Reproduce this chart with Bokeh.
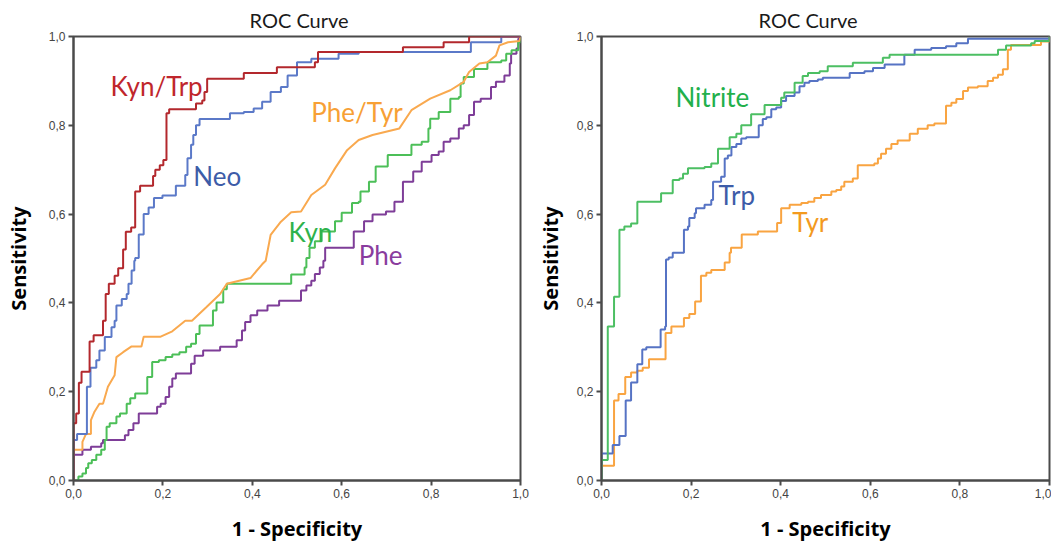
from bokeh.plotting import figure
from bokeh.layouts import row
from bokeh.models import Range1d, FixedTicker, CustomJSTickFormatter, Label
from bokeh.embed import file_html
from bokeh.resources import INLINE

# ---------------- data (left panel) ----------------
kyntrp_fpr = [0, 0, 0.006, 0.012, 0.018, 0.036, 0.045, 0.066, 0.072, 0.079, 0.092, 0.100, 0.111, 0.117,
              0.129, 0.138, 0.149, 0.178, 0.183, 0.193, 0.201, 0.208, 0.214, 0.274, 0.288, 0.293, 0.299,
              0.381, 0.455, 0.540, 0.547, 0.737, 0.828, 0.885, 1.0]
kyntrp_tpr = [0, 0.129, 0.151, 0.220, 0.245, 0.313, 0.327, 0.360, 0.420, 0.443, 0.461, 0.478, 0.520, 0.560,
              0.570, 0.651, 0.664, 0.686, 0.700, 0.710, 0.722, 0.827, 0.836, 0.849, 0.856, 0.875, 0.905,
              0.918, 0.931, 0.942, 0.965, 0.976, 0.987, 1.0, 1.0]

neo_fpr = [0, 0, 0.008, 0.030, 0.038, 0.051, 0.058, 0.070, 0.085, 0.092, 0.096, 0.108, 0.119, 0.123, 0.130,
           0.136, 0.138, 0.146, 0.157, 0.168, 0.180, 0.199, 0.229, 0.250, 0.255, 0.263, 0.268, 0.274, 0.282,
           0.350, 0.381, 0.403, 0.422, 0.441, 0.464, 0.479, 0.500, 0.532, 0.593, 0.638, 0.889, 0.957, 1.0]
neo_tpr = [0, 0.091, 0.105, 0.211, 0.254, 0.271, 0.293, 0.323, 0.345, 0.360, 0.394, 0.409, 0.420, 0.443, 0.473,
           0.495, 0.501, 0.554, 0.600, 0.615, 0.636, 0.642, 0.664, 0.688, 0.726, 0.756, 0.778, 0.800, 0.814,
           0.827, 0.830, 0.838, 0.853, 0.875, 0.886, 0.912, 0.942, 0.950, 0.961, 0.965, 0.987, 1.0, 1.0]

phetyr_fpr = [0, 0, 0.020, 0.020, 0.028, 0.039, 0.039, 0.047, 0.058, 0.066, 0.077, 0.092, 0.096, 0.111, 0.130,
              0.152, 0.157, 0.195, 0.221, 0.250, 0.265, 0.297, 0.328, 0.343, 0.396, 0.422, 0.430, 0.441, 0.464,
              0.487, 0.509, 0.532, 0.563, 0.585, 0.612, 0.638, 0.669, 0.729, 0.756, 0.798, 0.843, 0.873, 0.885,
              0.908, 0.926, 0.945, 0.953, 0.972, 0.998, 1.0]
phetyr_tpr = [0, 0.069, 0.069, 0.087, 0.105, 0.105, 0.136, 0.155, 0.173, 0.173, 0.211, 0.237, 0.278, 0.289, 0.302,
              0.302, 0.324, 0.324, 0.336, 0.360, 0.360, 0.390, 0.420, 0.443, 0.456, 0.487, 0.495, 0.553, 0.583,
              0.604, 0.606, 0.643, 0.666, 0.703, 0.744, 0.767, 0.778, 0.793, 0.834, 0.860, 0.879, 0.898, 0.920,
              0.939, 0.942, 0.957, 0.980, 0.987, 0.990, 1.0]

kyn_fpr = [0, 0.011, 0.020, 0.028, 0.033, 0.041, 0.051, 0.062, 0.070, 0.074, 0.081, 0.096, 0.104, 0.119, 0.127,
           0.138, 0.165, 0.176, 0.191, 0.206, 0.221, 0.237, 0.252, 0.263, 0.274, 0.282, 0.312, 0.320, 0.335,
           0.343, 0.487, 0.517, 0.521, 0.528, 0.540, 0.555, 0.585, 0.600, 0.623, 0.638, 0.642, 0.661, 0.676,
           0.703, 0.756, 0.779, 0.794, 0.798, 0.817, 0.843, 0.862, 0.866, 0.873, 0.896, 0.926, 0.957, 0.968,
           0.980, 0.995, 1.0]
kyn_tpr = [0, 0.009, 0.016, 0.028, 0.039, 0.046, 0.058, 0.069, 0.091, 0.121, 0.129, 0.144, 0.151, 0.173, 0.185,
           0.196, 0.233, 0.267, 0.271, 0.278, 0.284, 0.289, 0.301, 0.308, 0.330, 0.349, 0.383, 0.401, 0.431,
           0.443, 0.464, 0.480, 0.501, 0.524, 0.539, 0.561, 0.584, 0.603, 0.625, 0.628, 0.651, 0.673, 0.707,
           0.733, 0.756, 0.763, 0.793, 0.815, 0.830, 0.860, 0.864, 0.894, 0.909, 0.927, 0.942, 0.946, 0.961,
           0.969, 0.987, 1.0]

phe_fpr = [0, 0, 0.020, 0.039, 0.062, 0.066, 0.115, 0.123, 0.134, 0.146, 0.187, 0.195, 0.206, 0.214, 0.221,
           0.229, 0.263, 0.271, 0.290, 0.328, 0.365, 0.377, 0.384, 0.396, 0.411, 0.434, 0.460, 0.509, 0.521,
           0.532, 0.540, 0.551, 0.559, 0.563, 0.627, 0.650, 0.669, 0.699, 0.718, 0.737, 0.760, 0.779, 0.801,
           0.817, 0.828, 0.843, 0.862, 0.873, 0.885, 0.896, 0.911, 0.934, 0.945, 0.964, 0.976, 0.979, 0.991,
           0.995, 1.0]
phe_tpr = [0, 0.058, 0.069, 0.076, 0.084, 0.091, 0.102, 0.114, 0.129, 0.151, 0.166, 0.173, 0.188, 0.211, 0.230,
           0.241, 0.263, 0.281, 0.293, 0.301, 0.316, 0.338, 0.357, 0.372, 0.383, 0.394, 0.405, 0.428, 0.439,
           0.450, 0.465, 0.480, 0.495, 0.524, 0.561, 0.584, 0.599, 0.606, 0.628, 0.673, 0.696, 0.718, 0.733,
           0.741, 0.763, 0.770, 0.793, 0.800, 0.823, 0.853, 0.860, 0.886, 0.898, 0.912, 0.939, 0.961, 0.973,
           0.995, 1.0]

# ---------------- data (right panel) ----------------
nitrite_fpr = [0, 0, 0.014, 0.028, 0.040, 0.051, 0.066, 0.080, 0.133, 0.159, 0.174, 0.182, 0.193, 0.230, 0.245,
               0.260, 0.286, 0.301, 0.312, 0.334, 0.364, 0.401, 0.408, 0.431, 0.449, 0.461, 0.487, 0.505, 0.561,
               0.628, 0.643, 0.885, 0.903, 0.959, 0.967, 1.0]
nitrite_tpr = [0, 0.046, 0.347, 0.414, 0.565, 0.572, 0.579, 0.628, 0.647, 0.677, 0.680, 0.691, 0.703, 0.706, 0.714,
               0.747, 0.773, 0.781, 0.800, 0.825, 0.846, 0.862, 0.874, 0.896, 0.911, 0.918, 0.922, 0.933, 0.941,
               0.952, 0.959, 0.970, 0.980, 0.985, 0.990, 1.0]

trp_fpr = [0, 0, 0.025, 0.040, 0.054, 0.066, 0.080, 0.091, 0.100, 0.132, 0.142, 0.144, 0.150, 0.159, 0.184,
           0.193, 0.196, 0.208, 0.211, 0.230, 0.245, 0.249, 0.267, 0.275, 0.282, 0.290, 0.301, 0.312, 0.323,
           0.351, 0.360, 0.368, 0.379, 0.390, 0.401, 0.412, 0.431, 0.442, 0.453, 0.464, 0.483, 0.494, 0.554,
           0.587, 0.606, 0.632, 0.676, 0.699, 0.736, 0.769, 0.792, 0.818, 1.0]
trp_tpr = [0, 0.061, 0.080, 0.100, 0.180, 0.221, 0.262, 0.295, 0.300, 0.340, 0.347, 0.498, 0.502, 0.513, 0.565,
           0.572, 0.591, 0.602, 0.613, 0.621, 0.632, 0.673, 0.684, 0.725, 0.732, 0.751, 0.758, 0.770, 0.773,
           0.800, 0.814, 0.818, 0.836, 0.840, 0.855, 0.866, 0.874, 0.888, 0.896, 0.900, 0.903, 0.907, 0.918,
           0.922, 0.929, 0.937, 0.959, 0.970, 0.974, 0.978, 0.985, 0.995, 1.0]

tyr_fpr = [0, 0, 0.028, 0.038, 0.053, 0.066, 0.080, 0.092, 0.106, 0.143, 0.156, 0.184, 0.196, 0.209, 0.222,
           0.234, 0.245, 0.275, 0.286, 0.289, 0.313, 0.349, 0.392, 0.401, 0.420, 0.446, 0.461, 0.475, 0.490,
           0.513, 0.524, 0.535, 0.542, 0.561, 0.572, 0.609, 0.617, 0.624, 0.635, 0.647, 0.661, 0.688, 0.706,
           0.728, 0.743, 0.769, 0.781, 0.792, 0.807, 0.818, 0.840, 0.862, 0.874, 0.885, 0.896, 0.907, 0.914,
           0.981, 1.0]
tyr_tpr = [0, 0.033, 0.180, 0.195, 0.233, 0.243, 0.247, 0.254, 0.273, 0.332, 0.347, 0.366, 0.375, 0.403, 0.461,
           0.468, 0.474, 0.491, 0.513, 0.524, 0.554, 0.561, 0.580, 0.613, 0.621, 0.625, 0.628, 0.636, 0.643,
           0.651, 0.654, 0.662, 0.673, 0.680, 0.710, 0.714, 0.725, 0.736, 0.747, 0.758, 0.766, 0.781, 0.792,
           0.800, 0.804, 0.844, 0.851, 0.859, 0.877, 0.885, 0.888, 0.900, 0.907, 0.914, 0.926, 0.970, 0.981,
           0.989, 1.0]

tick_values = [0, 0.2, 0.4, 0.6, 0.8, 1.0]

FRAME = "#4a4a4a"
TICKFMT = CustomJSTickFormatter(code="return tick.toFixed(1).replace('.', ',');")


def make_panel(width, left, right, top, bottom, title_offset, ylab_standoff):
    p = figure(width=width, height=544, output_backend="svg", toolbar_location=None,
               x_range=Range1d(0, 1), y_range=Range1d(0, 1),
               min_border_left=left, min_border_right=right,
               min_border_top=top, min_border_bottom=bottom,
               title="ROC Curve")
    p.title.align = "left"
    p.title.offset = title_offset
    p.title.text_font = "Lato"
    p.title.text_font_size = "20px"
    p.title.text_font_style = "normal"
    p.title.text_color = "#1a1a1a"
    p.title.standoff = 10
    p.grid.visible = False
    p.outline_line_color = FRAME
    p.outline_line_width = 2
    p.outline_line_alpha = 1
    p.background_fill_color = "white"
    p.border_fill_color = "white"
    for ax in (p.xaxis[0], p.yaxis[0]):
        ax.ticker = FixedTicker(ticks=tick_values)
        ax.formatter = TICKFMT
        ax.minor_tick_line_color = None
        ax.major_tick_in = 0
        ax.major_tick_out = 5
        ax.major_tick_line_color = FRAME
        ax.major_tick_line_width = 2
        ax.axis_line_color = FRAME
        ax.axis_line_width = 2
        ax.major_label_text_font = "Liberation Sans"
        ax.major_label_text_font_size = "12px"
        ax.major_label_text_color = "#444444"
        ax.major_label_standoff = 3
        ax.axis_label_text_font = "Open Sans"
        ax.axis_label_text_font_style = "bold"
        ax.axis_label_text_font_size = "20px"
        ax.axis_label_text_color = "#000000"
    p.xaxis.axis_label = "1 - Specificity"
    p.yaxis.axis_label = "Sensitivity"
    p.xaxis.axis_label_standoff = 14
    p.yaxis.axis_label_standoff = ylab_standoff
    return p


def add_label(p, x, y, text, color):
    p.add_layout(Label(x=x, y=y, text=text, text_color=color, text_font="Lato",
                       text_font_size="26px", text_baseline="alphabetic", text_align="left"))


# ---------------- left panel ----------------
p1 = make_panel(530, 73, 10, 35, 63, 176, 14)
p1.step(phe_fpr, phe_tpr, mode="after", line_color="#7e3d98", line_width=2)
p1.step(kyn_fpr, kyn_tpr, mode="after", line_color="#4cbf58", line_width=2)
p1.line(phetyr_fpr, phetyr_tpr, line_color="#f9a94f", line_width=2)
p1.step(neo_fpr, neo_tpr, mode="after", line_color="#5b79c8", line_width=2)
p1.step(kyntrp_fpr, kyntrp_tpr, mode="after", line_color="#b3282d", line_width=2)

add_label(p1, 0.083, 0.888, "Kyn/Trp", "#c0262c")
add_label(p1, 0.268, 0.686, "Neo", "#3d5ca8")
add_label(p1, 0.532, 0.831, "Phe/Tyr", "#f7a035")
add_label(p1, 0.481, 0.560, "Kyn", "#2eb24c")
add_label(p1, 0.638, 0.509, "Phe", "#8a3c9e")

# ---------------- right panel ----------------
p2 = make_panel(521, 71, 2, 36, 60, 157, 10)
p2.step(tyr_fpr, tyr_tpr, mode="after", line_color="#f9a441", line_width=2)
p2.step(trp_fpr, trp_tpr, mode="after", line_color="#5673c4", line_width=2)
p2.step(nitrite_fpr, nitrite_tpr, mode="after", line_color="#4cbf63", line_width=2)

add_label(p2, 0.165, 0.864, "Nitrite", "#22b04b")
add_label(p2, 0.261, 0.643, "Trp", "#3d5ca8")
add_label(p2, 0.426, 0.582, "Tyr", "#f39a1e")

layout = row(p1, p2, spacing=0)
open("out.html", "w").write(file_html(layout, INLINE))
